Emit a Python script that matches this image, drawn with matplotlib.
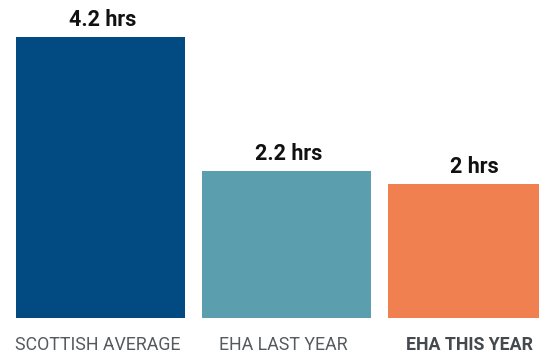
import matplotlib
matplotlib.use("Agg")
import matplotlib.pyplot as plt
from matplotlib.transforms import offset_copy

categories = ["SCOTTISH AVERAGE", "EHA LAST YEAR", "EHA THIS YEAR"]
hours = [4.2, 2.2, 2.0]
value_labels = ["4.2 hrs", "2.2 hrs", "2 hrs"]
colors = ["#024a82", "#5b9fae", "#f08050"]
label_weights = ["normal", "normal", "bold"]
label_colors = ["#555a5e", "#555a5e", "#44494d"]

plt.rcParams["font.family"] = ["Roboto", "DejaVu Sans"]

fig = plt.figure(figsize=(5.39, 3.54), dpi=100)
ax = fig.add_axes([0, 0, 1, 1])
ax.set_axis_off()

x = list(range(len(categories)))
ax.bar(x, hours, width=0.909, color=colors)

ax.set_xlim(-0.540, 2.358)
ax.set_ylim(-0.538, 4.753)

for xi, h, lab in zip(x, hours, value_labels):
    tr = offset_copy(ax.transData, fig=fig, x=2, y=6, units="dots")
    ax.text(xi, h, lab, transform=tr, ha="center", va="bottom",
            fontsize=15.5, fontweight="bold", color="#111111")

for xi, cat, fw, c in zip(x, categories, label_weights, label_colors):
    tr = offset_copy(ax.transData, fig=fig, x=-3, y=-27, units="dots")
    ax.text(xi, 0, cat, transform=tr, ha="center", va="center",
            fontsize=12.8, fontweight=fw, color=c)

fig.savefig("out.png", dpi=100)
